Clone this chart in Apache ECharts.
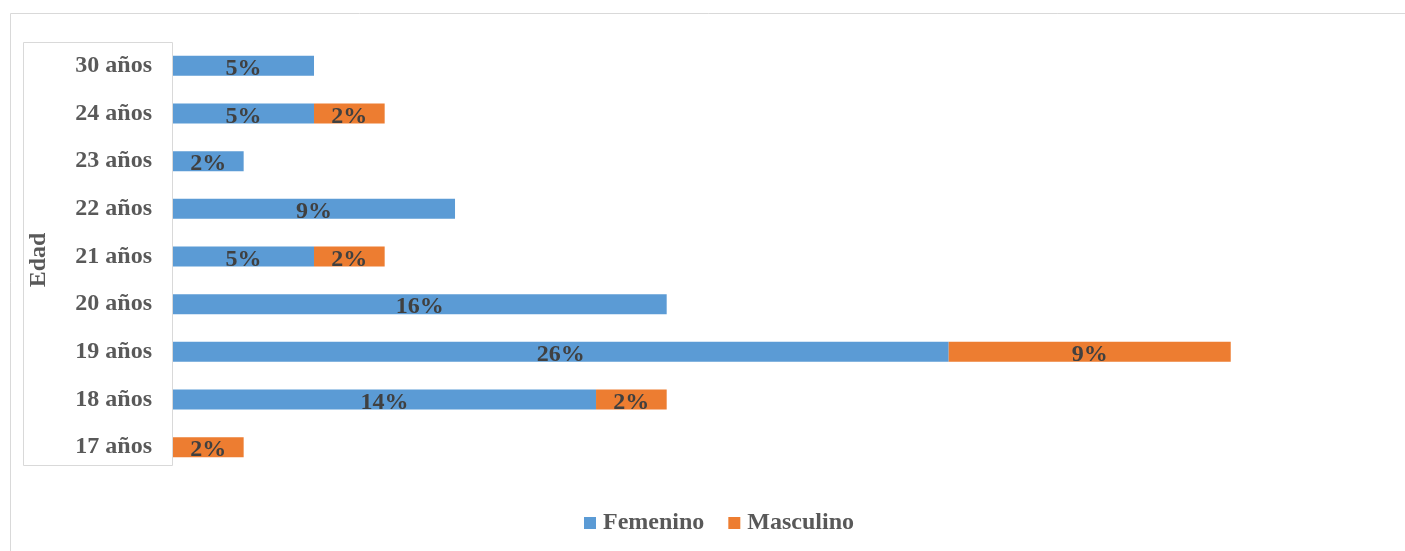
<!DOCTYPE html>
<html><head><meta charset="utf-8">
<script src="https://cdn.jsdelivr.net/npm/echarts@6/dist/echarts.min.js"></script>
<style>html,body{margin:0;padding:0;background:#fff}#c{width:1405px;height:551px}</style>
</head><body><div id="c"></div>
<script>
const categories = ['17 años','18 años','19 años','20 años','21 años','22 años','23 años','24 años','30 años'];
const femenino = [null, 13.95, 25.58, 16.28, 4.65, 9.30, 2.33, 4.65, 4.65];
const masculino = [2.33, 2.33, 9.30, null, 2.33, null, null, 2.33, null];
const axisTitle = 'Edad';
const seriesNames = ['Femenino','Masculino'];

const font = 'Liberation Serif, Times New Roman, serif';
const chart = echarts.init(document.getElementById('c'));
const lbl = {
  show: true, position: 'inside', offset: [0, 3],
  color: '#404040', fontFamily: font, fontWeight: 'bold', fontSize: 24,
  formatter: p => (p.value == null ? '' : Math.round(p.value) + '%')
};
chart.setOption({
  animation: false,
  grid: { left: 173, top: 42, bottom: 80, width: 1213, containLabel: false },
  graphic: [
    { type: 'rect', shape: { x: 10.5, y: 13.5, width: 1420, height: 560 }, style: { fill: 'none', stroke: '#d9d9d9', lineWidth: 1 }, silent: true },
    { type: 'rect', shape: { x: 23.5, y: 42.5, width: 149, height: 423 }, style: { fill: '#fff', stroke: '#d9d9d9', lineWidth: 1 }, silent: true, z: -1 },
    { type: 'text', x: 39, y: 260, rotation: Math.PI / 2, style: { text: axisTitle, fill: '#595959', font: 'bold 24px ' + font, align: 'center', verticalAlign: 'middle' } }
  ],
  legend: {
    bottom: 11, left: 579, itemWidth: 12, itemHeight: 12, itemGap: 24,
    icon: 'rect',
    textStyle: { color: '#595959', fontFamily: font, fontWeight: 'bold', fontSize: 24, padding: [2, 0, 0, 2] },
    data: seriesNames
  },
  xAxis: { type: 'value', min: 0, max: 40, show: false },
  yAxis: {
    type: 'category', data: categories,
    axisLine: { show: false },
    axisTick: { show: false },
    axisLabel: { color: '#595959', fontFamily: font, fontWeight: 'bold', fontSize: 24, margin: 21, padding: [4, 0, 0, 0] }
  },
  series: [
    { name: seriesNames[0], type: 'bar', stack: 's', data: femenino, barWidth: 20, itemStyle: { color: '#5B9BD5' }, label: lbl },
    { name: seriesNames[1], type: 'bar', stack: 's', data: masculino, barWidth: 20, itemStyle: { color: '#ED7D31' }, label: lbl }
  ]
});
</script></body></html>
